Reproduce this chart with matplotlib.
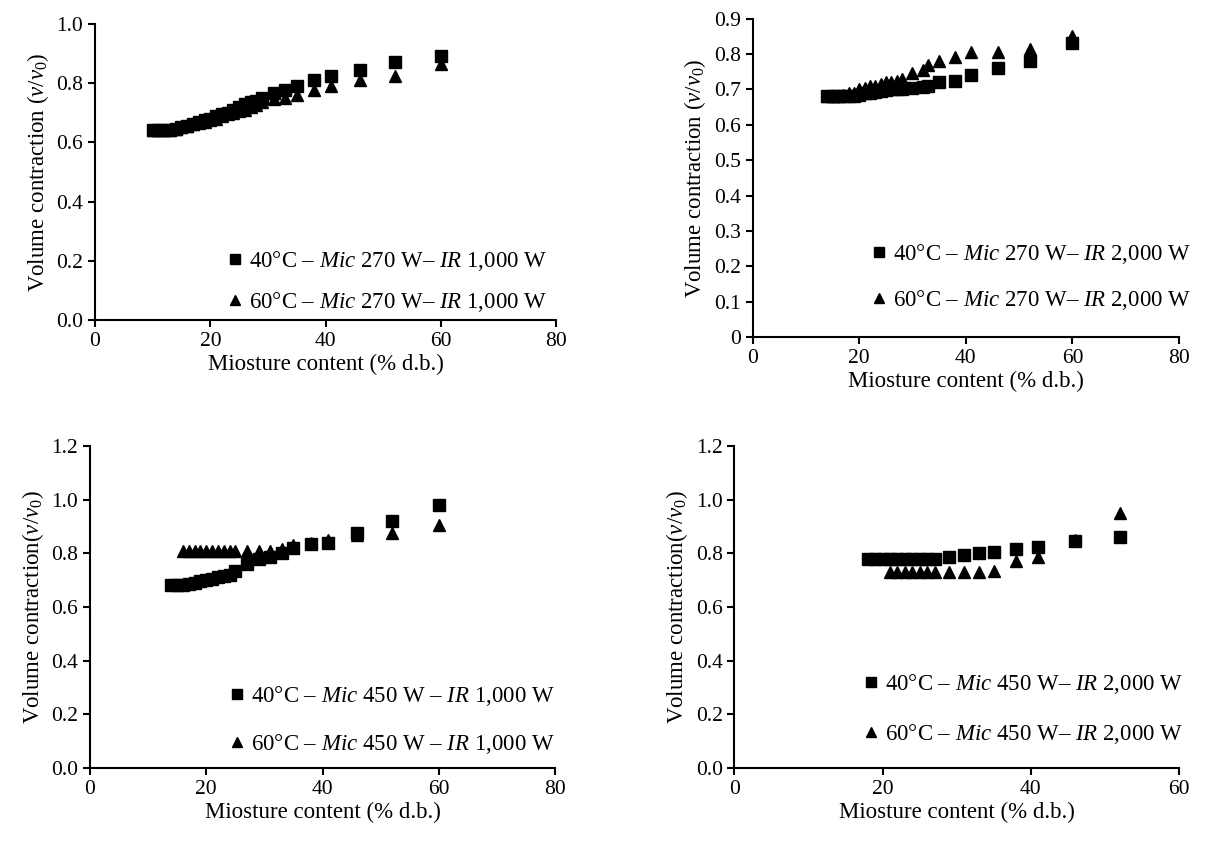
import matplotlib
matplotlib.use('Agg')
import matplotlib.pyplot as plt

plt.rcParams['font.family'] = 'serif'
plt.rcParams['font.serif'] = ['Liberation Serif', 'DejaVu Serif']
plt.rcParams['mathtext.fontset'] = 'custom'
plt.rcParams['mathtext.rm'] = 'Liberation Serif'
plt.rcParams['mathtext.it'] = 'Liberation Serif:italic'
plt.rcParams['font.size'] = 16

# Panel a: Mic 270 W - IR 1,000 W
x_a = [10, 11, 12, 13, 14, 15, 16, 17, 18, 19, 20, 21, 22, 23, 24, 25, 26, 27, 28, 29,
       31, 33, 35, 38, 41, 46, 52, 60]
sq_a = [0.64, 0.64, 0.64, 0.64, 0.645, 0.65, 0.655, 0.66, 0.67, 0.675, 0.68, 0.69, 0.695, 0.70,
        0.71, 0.72, 0.73, 0.735, 0.74, 0.75, 0.765, 0.775, 0.79, 0.81, 0.825, 0.845, 0.87, 0.89]
tr_a = [0.64, 0.64, 0.64, 0.64, 0.645, 0.65, 0.655, 0.66, 0.665, 0.67, 0.675, 0.68, 0.69, 0.695,
        0.70, 0.705, 0.71, 0.72, 0.725, 0.735, 0.745, 0.75, 0.76, 0.775, 0.79, 0.81, 0.825, 0.865]

# Panel b: Mic 270 W - IR 2,000 W
x_b = [14, 15, 16, 17, 18, 19, 20, 21, 22, 23, 24, 25, 26, 27, 28, 30, 32, 33, 35, 38,
       41, 46, 52, 60]
sq_b = [0.68, 0.68, 0.68, 0.68, 0.68, 0.68, 0.685, 0.69, 0.69, 0.692, 0.695, 0.697, 0.70, 0.70,
        0.702, 0.705, 0.707, 0.71, 0.72, 0.725, 0.74, 0.76, 0.78, 0.83]
tr_b = [0.68, 0.68, 0.68, 0.685, 0.69, 0.69, 0.70, 0.705, 0.71, 0.71, 0.715, 0.72, 0.72, 0.725,
        0.73, 0.745, 0.755, 0.77, 0.78, 0.79, 0.805, 0.805, 0.815, 0.85]

# Panel c: Mic 450 W - IR 1,000 W
x_c_sq = [14, 15, 16, 17, 18, 19, 20, 21, 22, 23, 24, 25, 27, 29, 31, 33, 35, 38, 41, 46, 52, 60]
sq_c = [0.68, 0.68, 0.68, 0.685, 0.69, 0.695, 0.70, 0.705, 0.71, 0.715, 0.72, 0.735, 0.76, 0.78,
        0.785, 0.80, 0.82, 0.835, 0.84, 0.875, 0.92, 0.98]
x_c_tr = [16, 17, 18, 19, 20, 21, 22, 23, 24, 25, 27, 29, 31, 33, 35, 38, 41, 46, 52, 60]
tr_c = [0.81, 0.81, 0.81, 0.81, 0.81, 0.81, 0.81, 0.81, 0.81, 0.81, 0.81, 0.81, 0.81, 0.815,
        0.83, 0.84, 0.85, 0.87, 0.875, 0.905]

# Panel d: Mic 450 W - IR 2,000 W
x_d_sq = [18, 19, 20, 21, 22, 23, 24, 25, 26, 27, 29, 31, 33, 35, 38, 41, 46, 52]
sq_d = [0.78, 0.78, 0.78, 0.78, 0.78, 0.78, 0.78, 0.78, 0.78, 0.78, 0.785, 0.795, 0.80, 0.805,
        0.815, 0.825, 0.845, 0.86]
x_d_tr = [21, 22, 23, 24, 25, 26, 27, 29, 31, 33, 35, 38, 41, 46, 52]
tr_d = [0.73, 0.73, 0.73, 0.73, 0.73, 0.73, 0.73, 0.73, 0.73, 0.73, 0.735, 0.77, 0.785, 0.85, 0.95]

fig = plt.figure(figsize=(12.08, 8.43), dpi=100)

panels = [
    dict(rect=[0.0786, 0.620, 0.382, 0.352], xs=x_a, sq=sq_a, xt=x_a, tr=tr_a,
         xlim=(0, 80), xt_=[0, 20, 40, 60, 80], ylim=(0, 1.0),
         yt=[0.0, 0.2, 0.4, 0.6, 0.8, 1.0], yfmt='%.1f',
         lab=['40°C – $\\mathit{Mic}$ 270 W– $\\mathit{IR}$ 1,000 W',
              '60°C – $\\mathit{Mic}$ 270 W– $\\mathit{IR}$ 1,000 W'],
         ylabel='Volume contraction ($\\mathit{v}/\\mathit{v}_0$)', leg=(1.0, -0.01), sp=0.75),
    dict(rect=[0.623, 0.600, 0.353, 0.378], xs=x_b, sq=sq_b, xt=x_b, tr=tr_b,
         xlim=(0, 80), xt_=[0, 20, 40, 60, 80], ylim=(0, 0.9),
         yt=[0, 0.1, 0.2, 0.3, 0.4, 0.5, 0.6, 0.7, 0.8, 0.9], yfmt='%g',
         lab=['40°C – $\\mathit{Mic}$ 270 W– $\\mathit{IR}$ 2,000 W',
              '60°C – $\\mathit{Mic}$ 270 W– $\\mathit{IR}$ 2,000 W'],
         ylabel='Volume contraction ($\\mathit{v}/\\mathit{v}_0$)', leg=(1.05, 0.05), sp=0.95),
    dict(rect=[0.0745, 0.089, 0.385, 0.382], xs=x_c_sq, sq=sq_c, xt=x_c_tr, tr=tr_c,
         xlim=(0, 80), xt_=[0, 20, 40, 60, 80], ylim=(0, 1.2),
         yt=[0.0, 0.2, 0.4, 0.6, 0.8, 1.0, 1.2], yfmt='%.1f',
         lab=['40°C – $\\mathit{Mic}$ 450 W – $\\mathit{IR}$ 1,000 W',
              '60°C – $\\mathit{Mic}$ 450 W – $\\mathit{IR}$ 1,000 W'],
         ylabel='Volume contraction($\\mathit{v}/\\mathit{v}_0$)', leg=(1.02, 0.01), sp=1.05),
    dict(rect=[0.608, 0.089, 0.368, 0.382], xs=x_d_sq, sq=sq_d, xt=x_d_tr, tr=tr_d,
         xlim=(0, 60), xt_=[0, 20, 40, 60], ylim=(0, 1.2),
         yt=[0.0, 0.2, 0.4, 0.6, 0.8, 1.0, 1.2], yfmt='%.1f',
         lab=['40°C – $\\mathit{Mic}$ 450 W– $\\mathit{IR}$ 2,000 W',
              '60°C – $\\mathit{Mic}$ 450 W– $\\mathit{IR}$ 2,000 W'],
         ylabel='Volume contraction($\\mathit{v}/\\mathit{v}_0$)', leg=(1.03, 0.04), sp=1.15),
]

for p in panels:
    ax = fig.add_axes(p['rect'])
    ax.plot(p['xs'], p['sq'], 's', color='black', ms=8, label=p['lab'][0], zorder=3)
    ax.plot(p['xt'], p['tr'], '^', color='black', ms=8.5, label=p['lab'][1], zorder=2)
    ax.set_xlim(*p['xlim'])
    ax.set_ylim(*p['ylim'])
    ax.set_xticks(p['xt_'])
    ax.set_yticks(p['yt'])
    ax.set_yticklabels([p['yfmt'] % v for v in p['yt']])
    for s in ['top', 'right']:
        ax.spines[s].set_visible(False)
    for s in ['left', 'bottom']:
        ax.spines[s].set_linewidth(1.5)
    ax.tick_params(direction='out', length=5, width=1.5, labelsize=15.5)
    ax.set_xlabel('Miosture content (% d.b.)', fontsize=16.5, labelpad=2)
    ax.set_ylabel(p['ylabel'], fontsize=16.5, labelpad=4)
    ax.legend(loc='lower right', bbox_to_anchor=p['leg'], frameon=False, fontsize=16.5,
              handlelength=0.9, handletextpad=0.15, labelspacing=p['sp'], borderaxespad=0,
              markerscale=0.85)

fig.savefig('out.png', dpi=100)
